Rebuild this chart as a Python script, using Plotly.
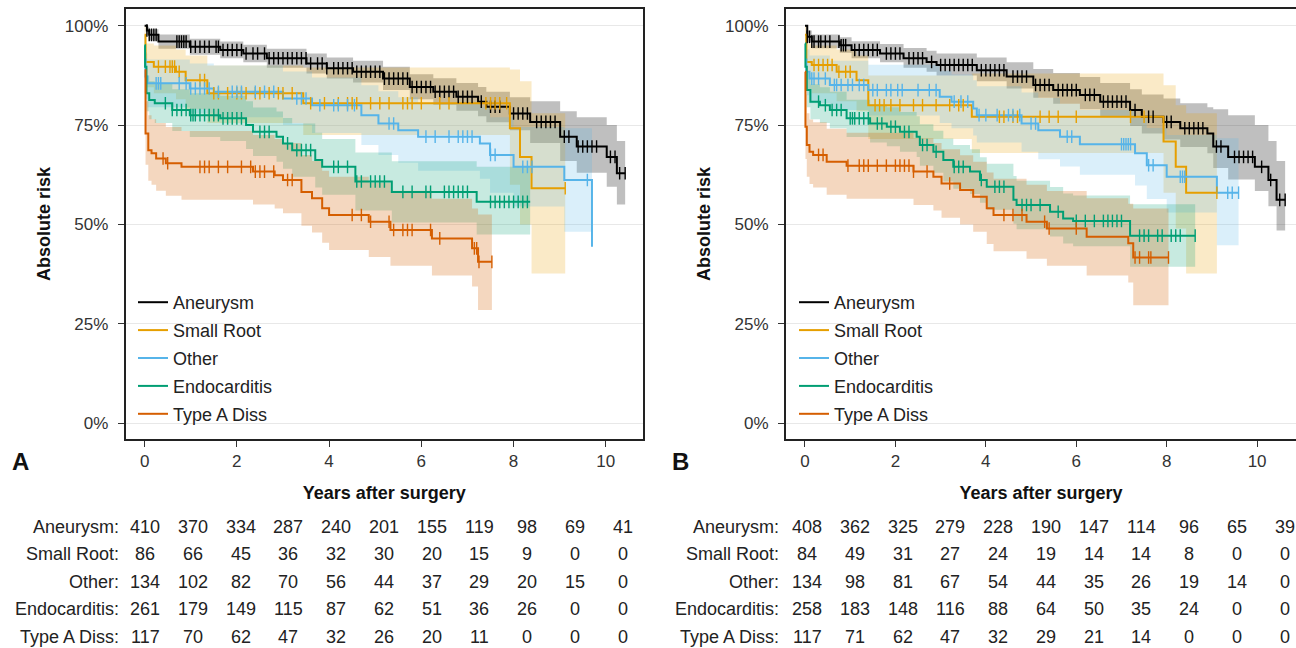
import numpy as np
import plotly.graph_objects as go

groups = ["Aneurysm", "Small Root", "Other", "Endocarditis", "Type A Diss"]
colors = ["#000000", "#E69F00", "#56B4E9", "#009E73", "#D55E00"]
band_colors = ["rgba(0,0,0,0.25)", "rgba(230,159,0,0.22)", "rgba(86,180,233,0.22)",
               "rgba(0,158,115,0.22)", "rgba(213,94,0,0.25)"]
years = [0, 1, 2, 3, 4, 5, 6, 7, 8, 9, 10]
y_ticks = [0, 25, 50, 75, 100]
y_ticklabels = ["0%", "25%", "50%", "75%", "100%"]

# ---------------- panel A ----------------
a_aneurysm_t = [0, 0.05, 0.1, 0.3, 0.98, 1.64, 2.14, 2.65, 3.51, 3.95, 4.52, 5.17, 5.75, 6.26, 6.76, 7.23, 7.41, 7.92, 8.36, 9.01, 9.37, 10.02, 10.24, 10.42]
a_aneurysm_s = [100, 98.8, 97.7, 96.0, 94.7, 93.9, 93.0, 91.8, 90.5, 89.3, 88.4, 86.7, 84.6, 83.4, 82.1, 80.9, 79.6, 77.9, 75.8, 72.1, 69.6, 67.0, 62.9, 62.9]
a_aneurysm_lo = [100, 97.7, 96.3, 94.2, 92.7, 91.8, 90.8, 89.4, 88.0, 86.7, 85.7, 83.8, 81.5, 80.1, 78.6, 77.2, 75.7, 73.7, 70.5, 66.0, 63.0, 59.5, 55.0, 54.5]
a_aneurysm_hi = [100, 99.8, 99.1, 97.8, 96.7, 96.0, 95.2, 94.2, 93.0, 92.0, 91.2, 89.7, 87.8, 86.8, 85.6, 84.6, 83.4, 82.0, 81.0, 78.5, 77.0, 75.0, 71.0, 71.0]
a_aneurysm_cens = [0.05, 0.1, 0.15, 0.2, 0.25, 0.7, 0.75, 0.8, 0.85, 0.9, 1.0, 1.1, 1.2, 1.3, 1.4, 1.55, 1.6, 1.7, 1.8, 1.9, 2.0, 2.1, 2.2, 2.35, 2.45, 2.6, 2.7, 2.8, 2.9, 3.0, 3.1, 3.2, 3.3, 3.4, 3.5, 3.6, 3.75, 3.85, 3.95, 4.1, 4.2, 4.3, 4.4, 4.5, 4.6, 4.7, 4.8, 4.9, 5.0, 5.1, 5.2, 5.3, 5.4, 5.5, 5.6, 5.7, 5.8, 5.9, 6.0, 6.1, 6.2, 6.3, 6.4, 6.5, 6.6, 6.7, 6.8, 6.9, 7.0, 7.1, 7.3, 7.5, 7.6, 7.7, 8.0, 8.1, 8.2, 8.3, 8.5, 8.6, 8.7, 8.8, 8.9, 9.1, 9.2, 9.4, 9.5, 9.6, 9.7, 9.8, 10.1, 10.2, 10.3, 10.42]

a_smallroot_t = [0, 0.02, 0.2, 0.68, 0.89, 1.36, 3.44, 7.92, 8.14, 8.39, 9.12]
a_smallroot_s = [97.7, 90.9, 89.7, 88.4, 86.3, 83.0, 80.5, 74.2, 67.0, 59.1, 59.1]
a_smallroot_lo = [93.5, 84.5, 83.0, 81.5, 79.0, 75.5, 72.5, 60.0, 50.0, 37.7, 37.7]
a_smallroot_hi = [100, 95.5, 95.0, 94.0, 92.5, 90.0, 89.5, 89.0, 86.0, 78.0, 78.0]
a_smallroot_cens = [0.3, 0.45, 0.55, 0.6, 0.65, 0.75, 1.2, 1.3, 1.5, 1.6, 1.8, 2.0, 2.1, 2.2, 2.4, 2.5, 2.7, 2.9, 3.0, 3.2, 3.6, 3.9, 4.2, 4.4, 4.5, 4.6, 4.9, 5.1, 5.3, 5.6, 5.7, 5.8, 6.0, 6.4, 6.6, 7.4, 7.5, 7.6, 7.7, 7.85, 9.12]

a_other_t = [0, 0.02, 0.06, 0.98, 1.5, 3.0, 3.63, 4.7, 5.07, 5.5, 5.93, 7.27, 7.49, 8.0, 9.1, 9.70]
a_other_s = [91.5, 87.2, 85.5, 84.2, 83.4, 81.7, 80.0, 77.5, 75.4, 73.7, 72.1, 70.4, 67.5, 64.5, 61.2, 44.4]
a_other_lo = [86.5, 81.5, 79.5, 78.0, 77.0, 75.0, 73.0, 70.0, 67.5, 65.5, 63.5, 61.5, 58.0, 54.5, 48.2, 48.2]
a_other_hi = [96.5, 93.0, 91.5, 90.5, 90.0, 88.5, 87.0, 85.0, 83.5, 82.0, 80.5, 79.5, 77.0, 74.5, 74.2, 74.2]
a_other_cens = [0.25, 0.3, 0.35, 0.75, 0.9, 1.0, 1.1, 1.2, 1.3, 1.4, 1.6, 1.9, 2.0, 2.1, 2.4, 2.6, 2.8, 3.3, 3.4, 3.5, 3.8, 4.1, 4.2, 4.4, 4.55, 5.3, 5.4, 6.1, 6.3, 6.6, 6.8, 6.9, 7.0, 7.1, 7.5, 7.6, 8.2, 8.3, 8.4, 9.6]

a_endo_t = [0, 0.01, 0.04, 0.1, 0.22, 0.6, 0.98, 1.64, 2.2, 2.35, 2.86, 3.0, 3.2, 3.7, 3.85, 4.57, 5.36, 7.2, 8.36]
a_endo_s = [95.1, 89.7, 83.0, 81.3, 80.5, 78.8, 77.5, 76.7, 75.0, 73.3, 72.1, 70.4, 68.7, 66.2, 64.5, 60.8, 58.2, 55.7, 55.7]
a_endo_lo = [92.5, 86.0, 78.5, 76.5, 75.5, 73.5, 72.0, 71.0, 69.0, 67.2, 65.8, 64.0, 62.0, 59.3, 57.5, 53.5, 50.5, 47.5, 47.5]
a_endo_hi = [97.7, 93.4, 87.5, 86.0, 85.5, 84.0, 83.0, 82.4, 81.0, 79.4, 78.4, 76.8, 75.4, 73.1, 71.5, 68.1, 65.9, 64.5, 64.5]
a_endo_cens = [0.45, 0.6, 0.7, 0.8, 0.9, 1.0, 1.05, 1.1, 1.2, 1.3, 1.4, 1.5, 1.6, 1.7, 1.8, 1.9, 2.0, 2.1, 2.5, 2.6, 2.7, 3.1, 3.3, 3.4, 3.5, 3.6, 4.1, 4.2, 4.4, 4.6, 4.7, 4.9, 5.0, 5.1, 5.2, 5.6, 5.8, 6.1, 6.2, 6.5, 6.6, 6.7, 6.8, 6.9, 7.0, 7.5, 7.6, 7.7, 7.8, 7.9, 8.0, 8.1, 8.2, 8.3]

a_typea_t = [0, 0.02, 0.08, 0.15, 0.25, 0.46, 0.8, 2.35, 2.82, 3.0, 3.4, 3.63, 3.85, 4.0, 4.86, 5.33, 6.23, 7.1, 7.23, 7.53]
a_typea_s = [88.8, 72.9, 68.7, 67.9, 66.6, 65.4, 64.5, 63.3, 62.4, 61.2, 58.2, 56.6, 54.1, 52.4, 50.7, 48.6, 46.5, 44.0, 40.6, 40.6]
a_typea_lo = [83.0, 65.0, 61.0, 60.0, 58.5, 57.2, 56.2, 55.0, 54.0, 52.8, 49.7, 48.0, 45.4, 43.6, 41.8, 39.6, 37.2, 34.4, 28.5, 28.5]
a_typea_hi = [94.0, 81.0, 77.5, 76.5, 75.5, 74.5, 73.5, 72.5, 71.5, 70.5, 67.5, 66.0, 63.5, 62.0, 60.5, 58.5, 56.5, 54.0, 52.5, 52.5]
a_typea_cens = [0.4, 0.5, 1.2, 1.3, 1.4, 1.6, 1.8, 2.1, 2.3, 2.4, 2.5, 2.6, 2.8, 3.1, 3.2, 4.5, 4.7, 4.9, 5.3, 5.4, 5.6, 5.7, 5.8, 6.2, 6.4, 7.15, 7.2, 7.25, 7.53]

# ---------------- panel B ----------------
b_aneurysm_t = [0, 0.05, 0.15, 0.77, 1.03, 1.66, 2.18, 2.69, 2.91, 3.8, 4.46, 5.05, 5.49, 6.08, 6.53, 7.19, 7.45, 7.93, 8.3, 8.9, 9.03, 9.36, 9.95, 10.25, 10.43, 10.62]
b_aneurysm_s = [100, 97.2, 96.0, 95.1, 93.9, 93.0, 91.8, 90.9, 90.1, 88.8, 87.2, 85.1, 83.8, 82.6, 80.9, 78.8, 77.1, 75.8, 74.2, 72.9, 69.6, 67.0, 64.5, 61.2, 56.2, 56.2]
b_aneurysm_lo = [100, 95.8, 94.3, 93.2, 91.8, 90.8, 89.4, 88.4, 87.5, 86.0, 84.2, 81.9, 80.4, 79.0, 77.1, 74.8, 72.9, 71.4, 69.5, 67.9, 64.2, 61.3, 58.4, 54.6, 48.5, 47.8]
b_aneurysm_hi = [100, 98.8, 97.8, 97.1, 96.1, 95.4, 94.4, 93.7, 93.0, 92.0, 90.8, 89.1, 88.1, 87.1, 85.6, 84.0, 82.7, 81.7, 80.5, 79.5, 79.0, 77.5, 75.0, 71.0, 66.0, 65.4]
b_aneurysm_cens = [0.05, 0.1, 0.15, 0.2, 0.3, 0.35, 0.45, 0.55, 0.75, 0.8, 0.85, 0.9, 1.1, 1.2, 1.3, 1.4, 1.5, 1.6, 1.8, 1.9, 2.0, 2.1, 2.3, 2.4, 2.5, 2.6, 2.8, 3.0, 3.1, 3.2, 3.3, 3.4, 3.5, 3.6, 3.7, 3.9, 4.0, 4.1, 4.2, 4.3, 4.4, 4.6, 4.7, 4.8, 4.9, 5.1, 5.2, 5.3, 5.4, 5.6, 5.7, 5.8, 5.9, 6.0, 6.2, 6.3, 6.4, 6.6, 6.7, 6.8, 6.9, 7.0, 7.1, 7.3, 7.6, 7.7, 8.0, 8.1, 8.4, 8.5, 8.6, 8.7, 8.8, 9.1, 9.2, 9.5, 9.6, 9.7, 9.8, 9.9, 10.1, 10.3, 10.5, 10.62]

b_smallroot_t = [0, 0.03, 0.15, 0.7, 1.14, 1.40, 3.69, 7.93, 8.2, 8.43, 9.11]
b_smallroot_s = [97.7, 90.9, 90.1, 88.4, 86.3, 80.0, 77.1, 70.9, 64.5, 58.0, 58.0]
b_smallroot_lo = [93.5, 84.0, 83.0, 81.0, 78.5, 71.5, 68.0, 58.0, 49.0, 37.7, 37.7]
b_smallroot_hi = [100, 95.5, 95.0, 94.0, 92.5, 87.5, 88.0, 85.0, 80.0, 78.0, 78.0]
b_smallroot_cens = [0.2, 0.3, 0.4, 0.5, 0.6, 0.75, 0.9, 1.0, 1.55, 1.65, 1.75, 1.9, 2.1, 2.4, 2.6, 2.9, 3.2, 3.4, 3.5, 4.3, 4.4, 4.6, 4.7, 5.2, 5.4, 5.6, 6.0, 7.2, 7.5, 9.11]

b_other_t = [0, 0.03, 0.1, 0.55, 1.4, 2.98, 3.24, 3.72, 3.8, 4.79, 5.16, 5.64, 6.08, 7.3, 7.56, 8.0, 9.11, 9.59]
b_other_s = [91.5, 88.4, 86.7, 85.1, 83.8, 82.1, 80.9, 79.2, 77.5, 75.4, 73.7, 72.1, 70.2, 67.9, 64.9, 62.0, 58.0, 58.0]
b_other_lo = [86.5, 82.5, 80.5, 78.8, 77.4, 75.5, 74.2, 72.4, 70.6, 68.3, 66.4, 64.6, 62.5, 59.8, 56.4, 53.0, 44.8, 44.8]
b_other_hi = [96.5, 94.0, 92.5, 91.2, 90.2, 88.7, 87.7, 86.3, 84.8, 83.2, 81.8, 80.4, 78.8, 77.0, 74.3, 72.5, 71.7, 71.7]
b_other_cens = [0.15, 0.2, 0.3, 0.45, 0.65, 0.7, 0.8, 0.95, 1.05, 1.2, 1.3, 1.5, 1.6, 1.8, 1.9, 2.05, 2.15, 2.5, 2.75, 2.9, 3.3, 3.45, 3.6, 3.85, 4.0, 4.25, 4.5, 4.6, 4.75, 5.0, 5.1, 5.8, 5.9, 7.0, 7.05, 7.1, 7.15, 7.2, 7.6, 7.7, 8.3, 8.35, 8.4, 9.35, 9.45, 9.59]

b_endo_t = [0, 0.01, 0.04, 0.12, 0.33, 0.55, 0.92, 1.44, 1.81, 2.1, 2.47, 2.54, 2.84, 3.06, 3.28, 3.65, 3.87, 4.02, 4.61, 4.68, 5.42, 5.71, 5.93, 7.19, 8.63]
b_endo_s = [95.5, 89.7, 83.8, 80.9, 80.0, 78.8, 76.7, 75.4, 74.6, 73.3, 72.1, 70.0, 68.3, 66.2, 64.5, 63.3, 61.2, 59.5, 56.2, 54.9, 53.2, 51.5, 50.9, 47.2, 47.2]
b_endo_lo = [93.0, 86.0, 79.5, 76.5, 75.5, 74.2, 72.0, 70.6, 69.7, 68.3, 67.0, 64.8, 63.0, 60.8, 59.0, 57.7, 55.5, 53.7, 50.2, 48.8, 47.0, 45.2, 44.5, 39.4, 39.4]
b_endo_hi = [97.9, 93.4, 88.1, 85.3, 84.5, 83.4, 81.4, 80.2, 79.5, 78.3, 77.2, 75.2, 73.6, 71.6, 70.0, 68.9, 66.9, 65.3, 62.2, 61.0, 59.4, 57.8, 57.3, 55.1, 55.1]
b_endo_cens = [0.3, 0.45, 0.6, 0.7, 0.8, 1.0, 1.05, 1.1, 1.2, 1.3, 1.4, 1.6, 1.7, 1.9, 2.0, 2.2, 2.3, 2.6, 2.7, 2.9, 3.3, 3.4, 3.5, 3.9, 4.2, 4.3, 4.4, 4.8, 4.9, 5.0, 5.2, 5.6, 6.0, 6.2, 6.4, 6.6, 6.7, 6.8, 6.9, 7.0, 7.4, 7.5, 7.6, 7.8, 7.9, 8.1, 8.2, 8.3, 8.63]

b_typea_t = [0, 0.01, 0.04, 0.1, 0.18, 0.48, 0.92, 2.4, 2.84, 3.02, 3.43, 3.72, 4.02, 4.17, 4.9, 5.35, 6.23, 7.15, 7.26, 8.04]
b_typea_s = [88.4, 74.6, 70.0, 68.3, 67.5, 65.8, 64.8, 63.3, 62.0, 60.3, 58.7, 57.0, 54.1, 52.4, 50.7, 49.0, 46.9, 45.3, 41.7, 41.7]
b_typea_lo = [82.5, 66.5, 62.0, 60.2, 59.3, 57.5, 56.5, 54.9, 53.5, 51.7, 50.0, 48.2, 45.1, 43.3, 41.4, 39.6, 37.2, 35.4, 29.7, 29.7]
b_typea_hi = [94.3, 82.7, 78.0, 76.4, 75.7, 74.1, 73.1, 71.7, 70.5, 68.9, 67.4, 65.8, 63.1, 61.5, 60.0, 58.4, 56.6, 55.2, 54.0, 54.0]
b_typea_cens = [0.3, 0.4, 0.95, 1.2, 1.3, 1.4, 1.6, 1.8, 2.0, 2.1, 2.2, 2.3, 2.4, 2.7, 3.2, 4.4, 4.6, 4.8, 5.3, 5.4, 6.0, 7.3, 7.4, 7.6, 7.65, 8.04]

# ---------------- numbers at risk ----------------
a_risk_aneurysm = [410, 370, 334, 287, 240, 201, 155, 119, 98, 69, 41]
a_risk_smallroot = [86, 66, 45, 36, 32, 30, 20, 15, 9, 0, 0]
a_risk_other = [134, 102, 82, 70, 56, 44, 37, 29, 20, 15, 0]
a_risk_endo = [261, 179, 149, 115, 87, 62, 51, 36, 26, 0, 0]
a_risk_typea = [117, 70, 62, 47, 32, 26, 20, 11, 0, 0, 0]

b_risk_aneurysm = [408, 362, 325, 279, 228, 190, 147, 114, 96, 65, 39]
b_risk_smallroot = [84, 49, 31, 27, 24, 19, 14, 14, 8, 0, 0]
b_risk_other = [134, 98, 81, 67, 54, 44, 35, 26, 19, 14, 0]
b_risk_endo = [258, 183, 148, 116, 88, 64, 50, 35, 24, 0, 0]
b_risk_typea = [117, 71, 62, 47, 32, 29, 21, 14, 0, 0, 0]

panel_a = [
    (a_aneurysm_t, a_aneurysm_s, a_aneurysm_lo, a_aneurysm_hi, a_aneurysm_cens),
    (a_smallroot_t, a_smallroot_s, a_smallroot_lo, a_smallroot_hi, a_smallroot_cens),
    (a_other_t, a_other_s, a_other_lo, a_other_hi, a_other_cens),
    (a_endo_t, a_endo_s, a_endo_lo, a_endo_hi, a_endo_cens),
    (a_typea_t, a_typea_s, a_typea_lo, a_typea_hi, a_typea_cens),
]
panel_b = [
    (b_aneurysm_t, b_aneurysm_s, b_aneurysm_lo, b_aneurysm_hi, b_aneurysm_cens),
    (b_smallroot_t, b_smallroot_s, b_smallroot_lo, b_smallroot_hi, b_smallroot_cens),
    (b_other_t, b_other_s, b_other_lo, b_other_hi, b_other_cens),
    (b_endo_t, b_endo_s, b_endo_lo, b_endo_hi, b_endo_cens),
    (b_typea_t, b_typea_s, b_typea_lo, b_typea_hi, b_typea_cens),
]
risk_a = [a_risk_aneurysm, a_risk_smallroot, a_risk_other, a_risk_endo, a_risk_typea]
risk_b = [b_risk_aneurysm, b_risk_smallroot, b_risk_other, b_risk_endo, b_risk_typea]

W, H = 1296, 648
FONT = "Liberation Sans, Arial, Helvetica, sans-serif"

fig = go.Figure()


def add_panel(curves, xa, ya, legend_name):
    # confidence bands first so that every line sits on top
    for (t, s, lo, hi, cens), band in zip(curves, band_colors):
        fig.add_trace(go.Scatter(x=t, y=lo, mode="lines", line=dict(width=0, shape="hv"),
                                 xaxis=xa, yaxis=ya, showlegend=False, hoverinfo="skip"))
        fig.add_trace(go.Scatter(x=t, y=hi, mode="lines", line=dict(width=0, shape="hv"),
                                 fill="tonexty", fillcolor=band,
                                 xaxis=xa, yaxis=ya, showlegend=False, hoverinfo="skip"))
    for (t, s, lo, hi, cens), name, col in zip(curves, groups, colors):
        fig.add_trace(go.Scatter(x=t, y=s, mode="lines", name=name,
                                 line=dict(color=col, width=2, shape="hv"),
                                 xaxis=xa, yaxis=ya, legend=legend_name,
                                 legendgroup=legend_name + name))
    for (t, s, lo, hi, cens), col in zip(curves, colors):
        idx = np.searchsorted(np.array(t), np.array(cens), side="right") - 1
        fig.add_trace(go.Scatter(x=cens, y=np.array(s)[idx], mode="markers",
                                 marker=dict(symbol="line-ns", size=9,
                                             line=dict(color=col, width=1.4)),
                                 xaxis=xa, yaxis=ya, showlegend=False, hoverinfo="skip"))


add_panel(panel_a, "x", "y", "legend")
add_panel(panel_b, "x2", "y2", "legend2")

ydom = [1 - 439 / H, 1 - 9 / H]
common_x = dict(tickvals=[0, 2, 4, 6, 8, 10], ticks="outside", ticklen=6, tickwidth=1.2,
                tickcolor="#333", showgrid=False, zeroline=False, showline=True,
                linecolor="#222", linewidth=2, mirror=True,
                tickfont=dict(size=17, color="#333", family=FONT),
                title=dict(text="<b>Years after surgery</b>", standoff=16,
                           font=dict(size=18, color="#111", family=FONT)))
common_y = dict(range=[-3.95, 104.2], tickmode="array", tickvals=y_ticks, ticktext=y_ticklabels,
                ticks="outside", ticklen=6, tickwidth=1.2, tickcolor="#333",
                ticklabelstandoff=6,
                showgrid=True, gridcolor="#e8e8e8", gridwidth=1, zeroline=False,
                showline=True, linecolor="#222", linewidth=2,
                tickfont=dict(size=17, color="#333", family=FONT),
                title=dict(text="<b>Absolute risk</b>", standoff=10,
                           font=dict(size=18, color="#111", family=FONT)))

legend_common = dict(font=dict(size=18, color="#222", family=FONT), bgcolor="rgba(0,0,0,0)",
                     xanchor="left", yanchor="top", tracegroupgap=1.5, itemwidth=30)

fig.update_layout(
    width=W, height=H, margin=dict(l=0, r=0, t=0, b=0),
    paper_bgcolor="white", plot_bgcolor="white",
    font=dict(family=FONT),
    xaxis=dict(domain=[125.7 / W, 642.7 / W], range=[-0.41, 10.8], anchor="y", **common_x),
    yaxis=dict(domain=ydom, anchor="x", mirror=True, **common_y),
    xaxis2=dict(domain=[786 / W, 1.0], range=[-0.42, 10.86], anchor="y2", **common_x),
    yaxis2=dict(domain=ydom, anchor="x2", mirror=False, **common_y),
    legend=dict(x=133 / W, y=1 - 284 / H, **legend_common),
    legend2=dict(x=794 / W, y=1 - 284 / H, **legend_common),
)

annotations = []
for label, x0 in [("A", 20), ("B", 681)]:
    annotations.append(dict(text="<b>" + label + "</b>", x=x0 / W, y=1 - 462 / H,
                            xref="paper", yref="paper", xanchor="center", yanchor="middle",
                            showarrow=False, font=dict(size=24, color="#111", family=FONT)))

for risk, lab_x, col0 in [(risk_a, 121, 145), (risk_b, 781, 807)]:
    for r, (name, row) in enumerate(zip(groups, risk)):
        yy = 1 - (526.5 + 27.6 * r) / H
        annotations.append(dict(text=name + ":", x=lab_x / W, y=yy, xref="paper", yref="paper",
                                xanchor="right", yanchor="middle", showarrow=False,
                                font=dict(size=18, color="#222", family=FONT)))
        for k, (yr, v) in enumerate(zip(years, row)):
            annotations.append(dict(text=str(v), x=(col0 + 47.75 * k) / W, y=yy,
                                    xref="paper", yref="paper", xanchor="center",
                                    yanchor="middle", showarrow=False,
                                    font=dict(size=18, color="#222", family=FONT)))

fig.update_layout(annotations=annotations)

fig.write_html("out.html", config={"displayModeBar": False},
               post_script="document.body.style.margin='0';document.body.style.overflow='hidden';")
